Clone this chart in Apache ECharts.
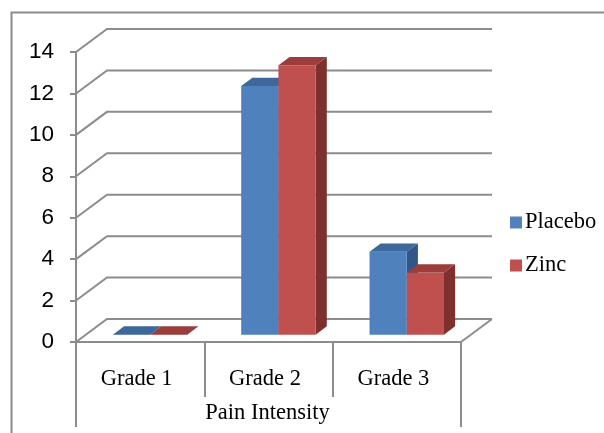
<!DOCTYPE html>
<html>
<head>
<meta charset="utf-8">
<script src="https://cdn.jsdelivr.net/npm/echarts@6/dist/echarts.min.js"></script>
<style>
  html, body { margin: 0; padding: 0; background: #fff; }
  #chart { width: 604px; height: 433px; }
</style>
</head>
<body>
<div id="chart"></div>
<script>
// Pain intensity by grade, placebo vs zinc
const categories = ['Grade 1', 'Grade 2', 'Grade 3'];
const placebo = [0, 12, 4];
const zinc = [0, 13, 3];
const yTicks = [0, 2, 4, 6, 8, 10, 12, 14];

// 3D look: depth vector of the floor and where the bars sit within it
const DEPTH_X = 31, DEPTH_Y = -23;
const BAR_FRONT = 0.32, BAR_BACK = 0.68;
const BAR_WIDTH = 0.29; // fraction of a category band
const GRID_COLOR = '#8c8c8c';
const SERIF = 'Liberation Serif';

const palette = {
  Placebo: { front: '#4F81BD', top: '#3D6899', side: '#30568A' },
  Zinc:    { front: '#C0504D', top: '#9B3D3B', side: '#7E302E' }
};

function barRenderer(name, side) {
  const c = palette[name];
  return function (params, api) {
    const cat = api.value(0), val = api.value(1);
    const base = api.coord([cat, 0]);
    const top = api.coord([cat, val]);
    const band = api.size([1, 0])[0];
    const w = band * BAR_WIDTH;
    const x0 = side < 0 ? base[0] - w : base[0];
    const x1 = x0 + w;
    const fx = DEPTH_X * BAR_FRONT, fy = DEPTH_Y * BAR_FRONT;
    const bx = DEPTH_X * BAR_BACK, by = DEPTH_Y * BAR_BACK;
    const yb = base[1], yt = top[1];
    const children = [];
    const topFace = {
      type: 'polygon',
      shape: { points: [[x0 + fx, yt + fy], [x1 + fx, yt + fy], [x1 + bx, yt + by], [x0 + bx, yt + by]] },
      style: { fill: c.top }
    };
    if (val > 0) {
      children.push({
        type: 'polygon',
        shape: { points: [[x1 + fx, yt + fy], [x1 + bx, yt + by], [x1 + bx, yb + by], [x1 + fx, yb + fy]] },
        style: { fill: c.side }
      });
      children.push({
        type: 'rect',
        shape: { x: x0 + fx, y: yt + fy, width: w, height: yb - yt },
        style: { fill: c.front }
      });
    }
    children.push(topFace);
    return { type: 'group', children: children };
  };
}

// Back wall gridlines, left-wall slants, floor and outer category frame
function frameRenderer(params, api) {
  const v = api.value(1);
  const nCat = categories.length;
  const left = api.coord([0, v]);
  const band = api.size([1, 0])[0];
  const xl = left[0] - band / 2;
  const xr = xl + band * nCat;
  const y = left[1];
  const stroke = { stroke: GRID_COLOR, lineWidth: 2, fill: null };
  const children = [{
    type: 'polyline',
    shape: { points: [[xl, y], [xl + DEPTH_X, y + DEPTH_Y], [xr + DEPTH_X, y + DEPTH_Y]] },
    style: stroke
  }];
  if (v === 0) {
    children.push({
      type: 'polyline',
      shape: { points: [[xr, y], [xr + DEPTH_X, y + DEPTH_Y]] },
      style: stroke
    });
    children.push({ type: 'line', shape: { x1: xl, y1: y, x2: xl, y2: y + 85 }, style: stroke });
    children.push({ type: 'line', shape: { x1: xr, y1: y, x2: xr, y2: y + 85 }, style: stroke });
  }
  return { type: 'group', children: children };
}

const chart = echarts.init(document.getElementById('chart'), null, { renderer: 'canvas' });

chart.setOption({
  animation: false,
  color: [palette.Placebo.front, palette.Zinc.front],
  grid: { left: 76, right: 143, top: 52, bottom: 91 },
  graphic: [{
    type: 'rect',
    left: 9, top: 10,
    shape: { width: 640, height: 480 },
    style: { fill: null, stroke: GRID_COLOR, lineWidth: 2 },
    silent: true
  }],
  legend: {
    orient: 'vertical',
    left: 505,
    top: 206,
    itemWidth: 12,
    itemHeight: 12,
    itemGap: 20,
    icon: 'rect',
    data: ['Placebo', 'Zinc'],
    textStyle: { fontFamily: SERIF, fontSize: 22.5, color: '#000', padding: [0, 0, 0, -2] }
  },
  xAxis: {
    type: 'category',
    data: categories,
    boundaryGap: true,
    axisLine: { lineStyle: { color: GRID_COLOR, width: 2 } },
    axisTick: { show: true, interval: 0, length: 55, lineStyle: { color: GRID_COLOR, width: 2 } },
    axisLabel: { interval: 0, margin: 26, padding: [0, 7, 0, 0], fontFamily: SERIF, fontSize: 22.5, color: '#000' },
    name: 'Pain Intensity',
    nameLocation: 'middle',
    nameGap: 60,
    nameTextStyle: { fontFamily: SERIF, fontSize: 22.5, color: '#000', padding: [0, 2, 0, 0] },
    splitLine: { show: false }
  },
  yAxis: {
    type: 'value',
    min: 0,
    max: 14,
    interval: 2,
    axisLine: { show: true, lineStyle: { color: GRID_COLOR, width: 2 } },
    axisTick: { show: true, length: 6, lineStyle: { color: GRID_COLOR, width: 2 } },
    axisLabel: { margin: 22, fontFamily: 'Liberation Sans', fontSize: 22.5, color: '#000' },
    splitLine: { show: false }
  },
  series: [
    {
      type: 'custom',
      name: 'frame',
      z: 1,
      silent: true,
      renderItem: frameRenderer,
      data: yTicks.map(v => [0, v])
    },
    {
      type: 'custom',
      name: 'Placebo',
      z: 2,
      itemStyle: { color: palette.Placebo.front },
      renderItem: barRenderer('Placebo', -1),
      data: placebo.map((v, i) => [i, v])
    },
    {
      type: 'custom',
      name: 'Zinc',
      z: 3,
      itemStyle: { color: palette.Zinc.front },
      renderItem: barRenderer('Zinc', 1),
      data: zinc.map((v, i) => [i, v])
    }
  ]
});
</script>
</body>
</html>
